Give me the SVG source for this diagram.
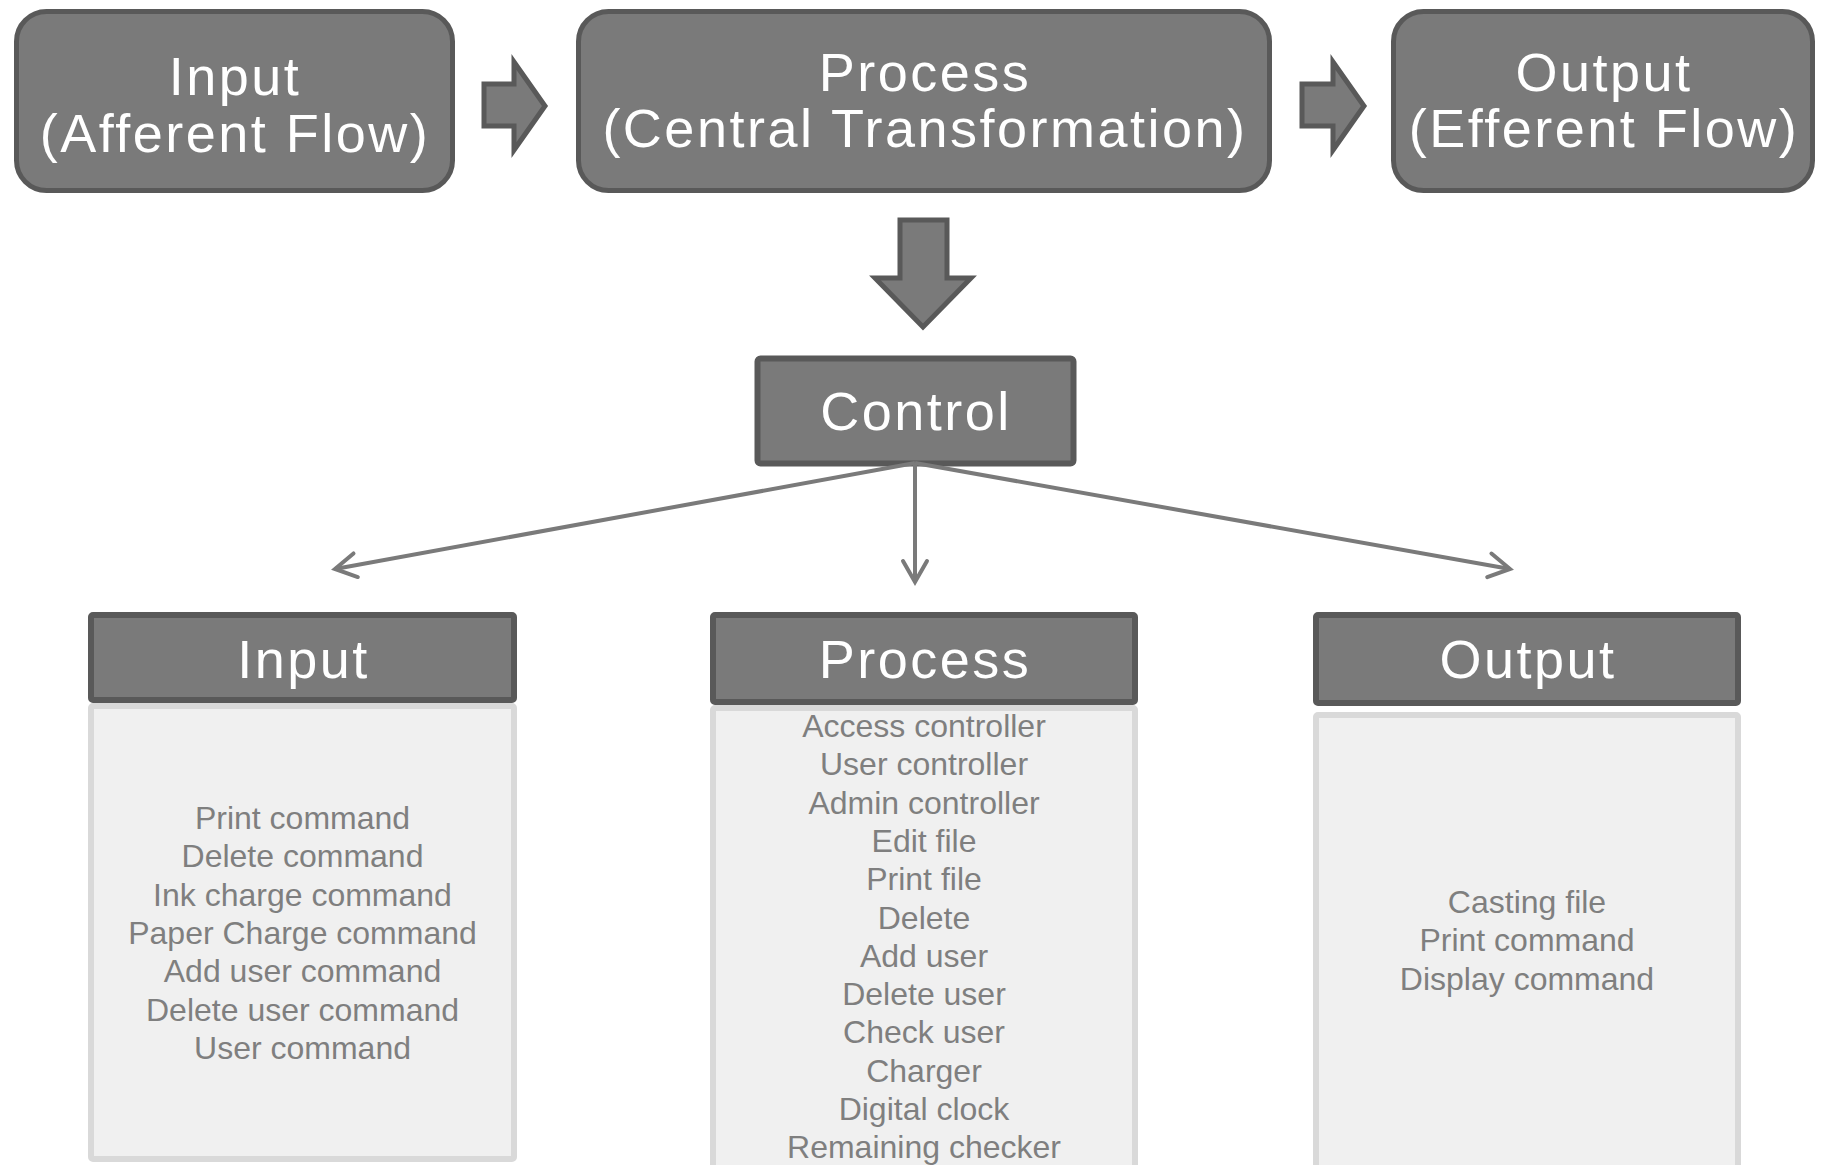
<svg xmlns="http://www.w3.org/2000/svg" width="1821" height="1165" viewBox="0 0 1821 1165">
<style>
.top{fill:#7a7a7a;stroke:#595959;stroke-width:5}
.blk{fill:#7a7a7a;stroke:#595959;stroke-width:5;stroke-linejoin:miter}
.hdr{fill:#7a7a7a;stroke:#595959;stroke-width:6}
.body{fill:#f0f0f0;stroke:#d9d9d9;stroke-width:6}
.big{font-family:"Liberation Sans",Arial,sans-serif;font-size:54px;fill:#ffffff;text-anchor:middle;letter-spacing:2.5px}
.lst{font-family:"Liberation Sans",Arial,sans-serif;font-size:32px;fill:#7f7f7f;text-anchor:middle}
.con{stroke:#7a7a7a;stroke-width:4;fill:none}
</style>
<defs>
<marker id="chev" markerUnits="userSpaceOnUse" markerWidth="40" markerHeight="40" viewBox="-30 -20 40 40" refX="0" refY="0" orient="auto">
<path d="M -21 -12 L 0 0 L -21 12" fill="none" stroke="#7a7a7a" stroke-width="4" stroke-linecap="round"/>
</marker>
</defs>
<rect width="1821" height="1165" fill="#ffffff"/>

<g id="top-input">
<rect class="top" x="16.5" y="11.5" width="436" height="179" rx="30"/>
<text class="big" x="235" y="95">Input</text>
<text class="big" x="235" y="152">(Afferent Flow)</text>
</g>
<g id="top-process">
<rect class="top" x="578.5" y="11.5" width="691" height="179" rx="30"/>
<text class="big" x="925" y="91">Process</text>
<text class="big" x="925" y="147">(Central Transformation)</text>
</g>
<g id="top-output">
<rect class="top" x="1393.5" y="11.5" width="419" height="179" rx="30"/>
<text class="big" x="1604" y="91">Output</text>
<text class="big" x="1604" y="147">(Efferent Flow)</text>
</g>

<g id="block-arrows">
<polygon class="blk" points="484,84 514,84 514,62 545,106 514,150 514,126 484,126"/>
<polygon class="blk" points="1302,84 1333,84 1333,62 1364,106 1333,150 1333,126 1302,126"/>
<polygon class="blk" points="900,220 947,220 947,278 971,278 923,327 875,278 900,278"/>
</g>

<g id="control">
<rect x="757.5" y="358.5" width="316" height="105" rx="3" fill="#7a7a7a" stroke="#595959" stroke-width="6"/>
<text class="big" x="916" y="430">Control</text>
</g>

<g id="connectors">
<line class="con" x1="915" y1="463" x2="335" y2="569" marker-end="url(#chev)"/>
<line class="con" x1="915" y1="463" x2="915" y2="582" marker-end="url(#chev)"/>
<line class="con" x1="915" y1="463" x2="1510" y2="569" marker-end="url(#chev)"/>
</g>

<g id="panel-input">
<rect class="hdr" x="91" y="615" width="423" height="85" rx="2"/>
<rect class="body" x="91" y="706" width="423" height="453" rx="2"/>
<text class="big" x="303.5" y="678">Input</text>
<text class="lst" x="302.5" y="829">Print command</text>
<text class="lst" x="302.5" y="867.3">Delete command</text>
<text class="lst" x="302.5" y="905.6">Ink charge command</text>
<text class="lst" x="302.5" y="943.9">Paper Charge command</text>
<text class="lst" x="302.5" y="982.2">Add user command</text>
<text class="lst" x="302.5" y="1020.5">Delete user command</text>
<text class="lst" x="302.5" y="1058.8">User command</text>
</g>

<g id="panel-process">
<rect class="body" x="713" y="708" width="422" height="470" rx="2"/>
<rect class="hdr" x="713" y="615" width="422" height="87" rx="2"/>
<text class="big" x="925" y="678">Process</text>
<text class="lst" x="924" y="737">Access controller</text>
<text class="lst" x="924" y="775.3">User controller</text>
<text class="lst" x="924" y="813.6">Admin controller</text>
<text class="lst" x="924" y="851.9">Edit file</text>
<text class="lst" x="924" y="890.2">Print file</text>
<text class="lst" x="924" y="928.5">Delete</text>
<text class="lst" x="924" y="966.8">Add user</text>
<text class="lst" x="924" y="1005.1">Delete user</text>
<text class="lst" x="924" y="1043.4">Check user</text>
<text class="lst" x="924" y="1081.7">Charger</text>
<text class="lst" x="924" y="1120">Digital clock</text>
<text class="lst" x="924" y="1158.3">Remaining checker</text>
</g>

<g id="panel-output">
<rect class="hdr" x="1316" y="615" width="422" height="88" rx="2"/>
<rect class="body" x="1316" y="715" width="422" height="465" rx="2"/>
<text class="big" x="1528" y="678">Output</text>
<text class="lst" x="1527" y="913">Casting file</text>
<text class="lst" x="1527" y="951.3">Print command</text>
<text class="lst" x="1527" y="989.6">Display command</text>
</g>
</svg>
